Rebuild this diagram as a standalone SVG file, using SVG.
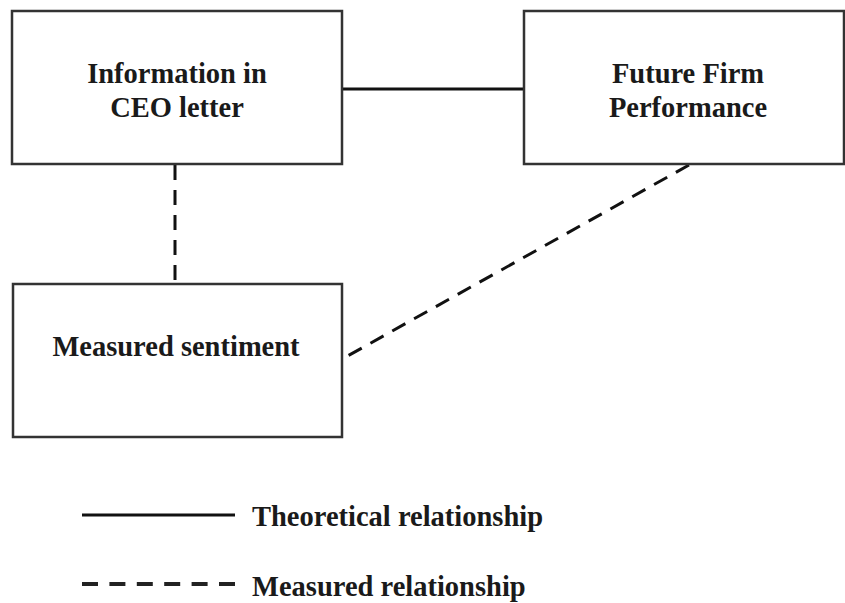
<svg xmlns="http://www.w3.org/2000/svg" width="845" height="603" viewBox="0 0 845 603">
<style>
.box{fill:#fff;stroke:#333;stroke-width:2.5}
.t{font-family:"Liberation Serif",serif;font-weight:bold;font-size:28.5px;fill:#1a1a1a;text-anchor:middle}
.lt{font-family:"Liberation Serif",serif;font-weight:bold;font-size:28.5px;fill:#1a1a1a}
.solid{stroke:#111;stroke-width:3;fill:none}
.dash{stroke:#111;stroke-width:3;fill:none;stroke-dasharray:15 10}
.ldash{stroke:#222;stroke-width:4;fill:none;stroke-dasharray:16 11.4}
</style>
<rect width="845" height="603" fill="#fff"/>
<g id="connectors">
<line class="solid" x1="342" y1="89" x2="524" y2="89"/>
<line class="dash" x1="175" y1="165" x2="175" y2="284"/>
<line class="dash" x1="689" y1="165" x2="344" y2="358"/>
</g>
<g id="info">
<rect class="box" x="12" y="11" width="330" height="153"/>
<text class="t" x="177" y="83">Information in</text>
<text class="t" x="177" y="117">CEO letter</text>
</g>
<g id="future">
<rect class="box" x="524" y="11" width="320" height="153"/>
<text class="t" x="688" y="83">Future Firm</text>
<text class="t" x="688" y="117">Performance</text>
</g>
<g id="measured">
<rect class="box" x="13" y="284" width="329" height="153"/>
<text class="t" x="176" y="356">Measured sentiment</text>
</g>
<g id="legend">
<line class="solid" x1="82" y1="515" x2="235" y2="515"/>
<text class="lt" x="252" y="526">Theoretical relationship</text>
<line class="ldash" x1="82" y1="584" x2="235" y2="584"/>
<text class="lt" x="252" y="596">Measured relationship</text>
</g>
</svg>
